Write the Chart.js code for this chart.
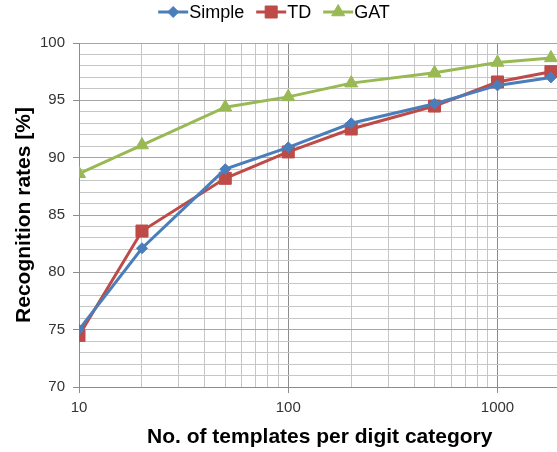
<!DOCTYPE html>
<html>
<head>
<meta charset="utf-8">
<script src="https://cdn.jsdelivr.net/npm/chart.js@4"></script>
<style>
  html, body { margin: 0; padding: 0; background: #fff; }
  #wrap { width: 557px; height: 452px; overflow: hidden; }
  canvas { display: block; }
</style>
</head>
<body>
<div id="wrap"><canvas id="chart" width="570" height="452"></canvas></div>
<script>
const templates = [10, 20, 50, 100, 200, 500, 1000, 1800];
const simpleRates = [75.0, 82.1, 89.0, 90.9, 93.0, 94.7, 96.3, 97.0];
const tdRates = [74.5, 83.6, 88.2, 90.5, 92.5, 94.5, 96.6, 97.5];
const gatRates = [88.6, 91.1, 94.4, 95.3, 96.5, 97.4, 98.3, 98.7];
const xTickLabels = [10, 100, 1000];
const yTickLabels = [70, 75, 80, 85, 90, 95, 100];

const seriesNames = ['Simple', 'TD', 'GAT'];
const seriesColors = ['#4a7ebb', '#be4b48', '#98b954'];
const seriesMarkers = ['rectRot', 'rect', 'triangle'];
const markerSizes = [5.5, 8.5, 7.5];

const FONT = 'Liberation Sans, Arial, sans-serif';

// every minor step of the log axis, 10..2000
const xGridValues = [];
[10, 100, 1000].forEach(d => { for (let k = 1; k < 10; k++) xGridValues.push(d * k); });
xGridValues.push(2000);

const datasets = [simpleRates, tdRates, gatRates].map((vals, i) => ({
    label: seriesNames[i],
    data: templates.map((t, j) => ({ x: t, y: vals[j] })),
    borderColor: seriesColors[i],
    backgroundColor: seriesColors[i],
    borderWidth: 3,
    pointStyle: seriesMarkers[i],
    pointRadius: markerSizes[i],
    pointHoverRadius: markerSizes[i],
    pointBorderWidth: 1,
    tension: 0
}));

// legend drawn as line + marker + label, like the original
const topLegend = {
    id: 'topLegend',
    afterDraw(chart) {
        const ctx = chart.ctx;
        ctx.save();
        ctx.font = '18px ' + FONT;
        const seg = 30, gap = 1, between = 12;
        const widths = seriesNames.map(n => seg + gap + ctx.measureText(n).width);
        const total = widths.reduce((a, b) => a + b, 0) + between * (widths.length - 1);
        let x = 274 - total / 2;
        const y = 12;
        seriesNames.forEach((name, i) => {
            ctx.strokeStyle = seriesColors[i];
            ctx.fillStyle = seriesColors[i];
            ctx.lineWidth = 3;
            ctx.beginPath();
            ctx.moveTo(x, y);
            ctx.lineTo(x + seg, y);
            ctx.stroke();
            ctx.lineWidth = 1;
            Chart.helpers.drawPoint(ctx, {
                pointStyle: seriesMarkers[i], radius: markerSizes[i], borderWidth: 1, rotation: 0
            }, x + seg / 2, y);
            ctx.fillStyle = '#000';
            ctx.textBaseline = 'middle';
            ctx.textAlign = 'left';
            ctx.fillText(name, x + seg + gap, y + 1);
            x += widths[i] + between;
        });
        ctx.restore();
    }
};

new Chart(document.getElementById('chart'), {
    type: 'line',
    data: { datasets },
    options: {
        responsive: false,
        animation: false,
        events: [],
        layout: { padding: { top: 43, left: 0, right: 0, bottom: 0 } },
        plugins: { legend: { display: false }, tooltip: { enabled: false } },
        scales: {
            x: {
                type: 'logarithmic',
                min: 10,
                max: 2000,
                afterBuildTicks: axis => { axis.ticks = xGridValues.map(v => ({ value: v })); },
                afterFit: axis => { axis.height = 65; },
                ticks: {
                    autoSkip: false,
                    maxRotation: 0,
                    padding: 6,
                    color: '#333',
                    font: { family: FONT, size: 15 },
                    callback: v => xTickLabels.includes(v) ? String(v) : ''
                },
                grid: {
                    color: c => xTickLabels.includes(c.tick.value) ? '#8c8c8c' : '#c6c6c6',
                    tickColor: c => xTickLabels.includes(c.tick.value) ? '#8c8c8c' : 'rgba(0,0,0,0)',
                    tickLength: 6,
                    lineWidth: 1
                },
                border: { color: '#8c8c8c' },
                title: {
                    display: true,
                    text: 'No. of templates per digit category',
                    color: '#000',
                    font: { family: FONT, size: 21, weight: 'bold' },
                    padding: { top: 0, bottom: 2 }
                }
            },
            y: {
                min: 70,
                max: 100,
                afterFit: axis => { axis.width = 79; },
                ticks: {
                    stepSize: 1,
                    autoSkip: false,
                    padding: 8,
                    color: '#333',
                    font: { family: FONT, size: 15 },
                    callback: v => yTickLabels.includes(v) ? String(v) : ''
                },
                grid: {
                    color: c => yTickLabels.includes(c.tick.value) ? '#a6a6a6' : '#c6c6c6',
                    tickColor: c => yTickLabels.includes(c.tick.value) ? '#8c8c8c' : 'rgba(0,0,0,0)',
                    tickLength: 6,
                    lineWidth: 1
                },
                border: { color: '#8c8c8c' },
                title: {
                    display: true,
                    text: 'Recognition rates [%]',
                    color: '#000',
                    font: { family: FONT, size: 21, weight: 'bold' },
                    padding: { top: 12, bottom: 0 }
                }
            }
        }
    },
    plugins: [topLegend]
});
</script>
</body>
</html>
